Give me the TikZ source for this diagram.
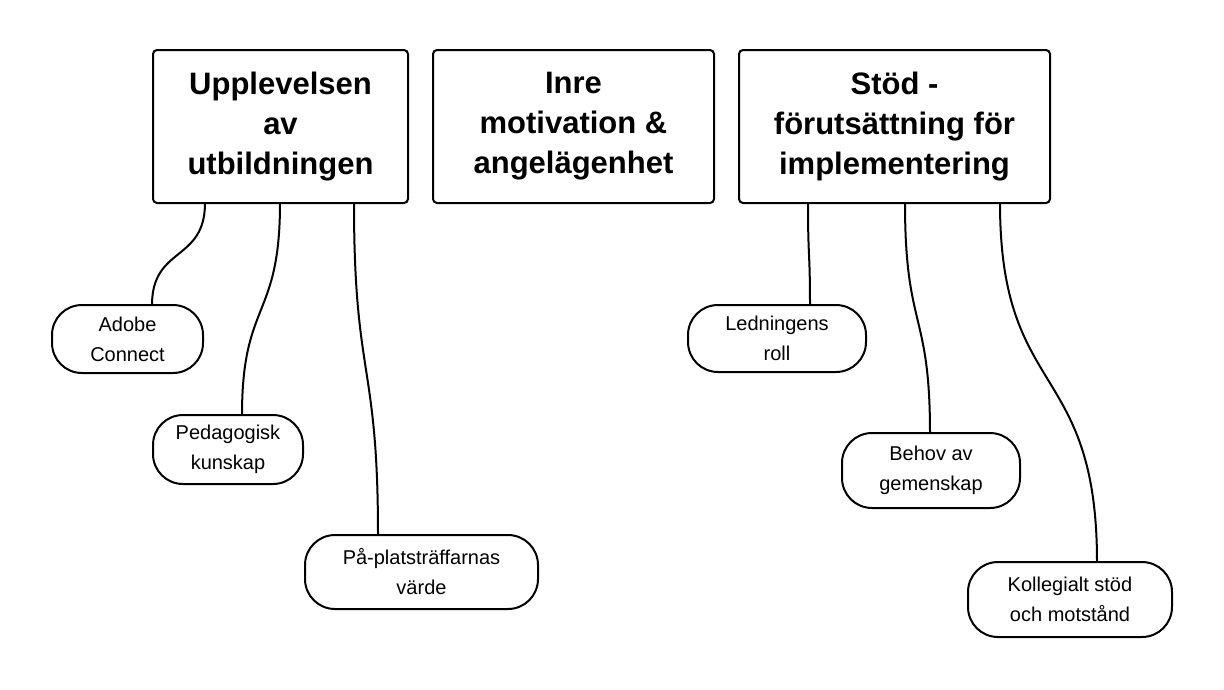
\documentclass[tikz,border=0pt]{standalone}
\usepackage{fontspec}
\setmainfont{Liberation Sans}
\begin{document}
\begin{tikzpicture}[x=1pt,y=-1pt,
  head/.style={draw,line width=2pt,rounded corners=4pt,align=center,font=\fontsize{31}{40}\selectfont\bfseries,inner sep=0pt},
  pill/.style={draw,line width=2pt,rounded corners=30pt,align=center,font=\fontsize{20}{30}\selectfont,inner sep=0pt},
  conn/.style={line width=2pt}]
\useasboundingbox (0,0) rectangle (1224,689);
\node[head,minimum width=255pt,minimum height=153pt] (b1) at (280.5,126.5) {Upplevelsen\\av\\utbildningen};
\node[head,minimum width=281pt,minimum height=153pt] (b2) at (573.5,126.5) {Inre\\motivation \&\\angelägenhet};
\node[head,minimum width=311pt,minimum height=153pt] (b3) at (894.5,126.5) {Stöd -\\förutsättning för\\implementering};
\node[pill,minimum width=151pt,minimum height=68pt] (p1) at (127.5,339) {Adobe\\Connect};
\node[pill,minimum width=150pt,minimum height=69pt] (p2) at (228,449.5) {Pedagogisk\\kunskap};
\node[pill,minimum width=233pt,minimum height=74pt] (p3) at (421.5,572) {På-platsträffarnas\\värde};
\node[pill,minimum width=178pt,minimum height=67pt] (p4) at (777,338.5) {Ledningens\\roll};
\node[pill,minimum width=178pt,minimum height=75pt] (p5) at (931,470.5) {Behov av\\gemenskap};
\node[pill,minimum width=204pt,minimum height=75pt] (p6) at (1070,599.5) {Kollegialt stöd\\och motstånd};
\coordinate (a1) at (205,203); \coordinate (e1) at (152,305);
\coordinate (a2) at (280,203); \coordinate (e2) at (242,415);
\coordinate (a3) at (354,203); \coordinate (e3) at (378,535);
\coordinate (a4) at (808,203); \coordinate (e4) at (810,305);
\coordinate (a5) at (905,203); \coordinate (e5) at (930,433);
\coordinate (a6) at (1000,203); \coordinate (e6) at (1097,562);
\draw[conn] (a1) .. controls (205,262) and (152,246) .. (e1);
\draw[conn] (a2) .. controls (280,320) and (242,300) .. (e2);
\draw[conn] (a3) .. controls (354,380) and (378,360) .. (e3);
\draw[conn] (a4) .. controls (808,260) and (810,250) .. (e4);
\draw[conn] (a5) .. controls (905,330) and (930,310) .. (e5);
\draw[conn] (a6) .. controls (1000,400) and (1097,360) .. (e6);
\end{tikzpicture}
\end{document}
